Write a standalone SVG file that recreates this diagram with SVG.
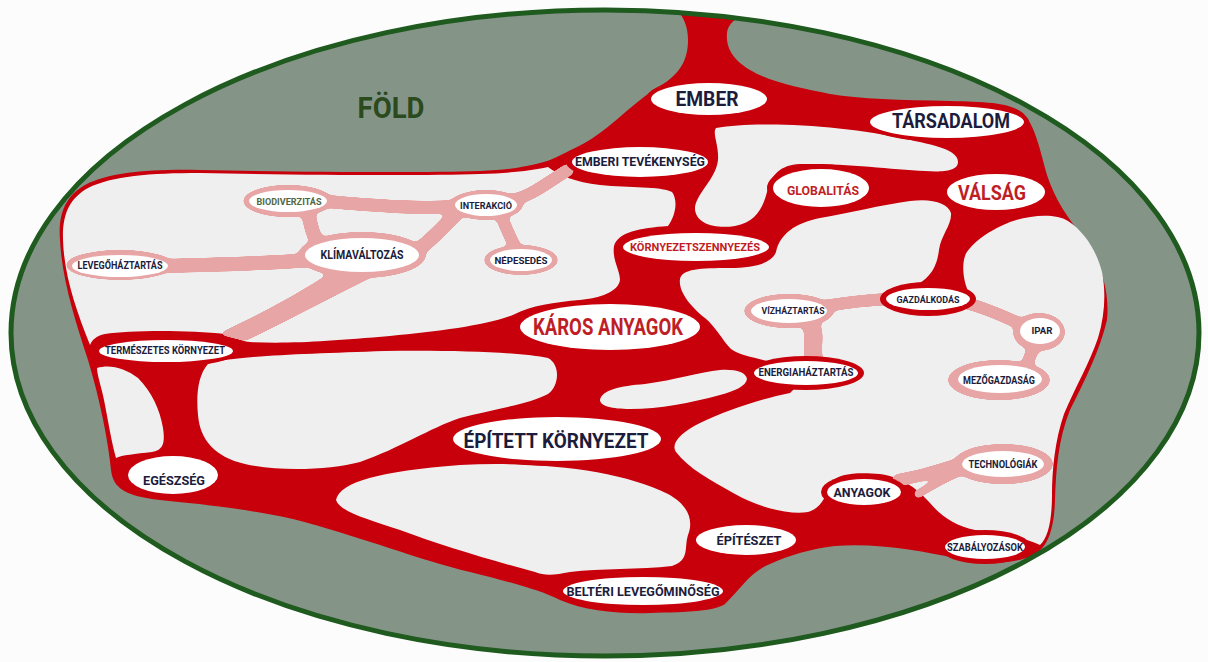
<svg xmlns="http://www.w3.org/2000/svg" width="1208" height="662" viewBox="0 0 1208 662">
<defs>
<clipPath id="earthClip"><ellipse cx="605" cy="333" rx="594" ry="323"/></clipPath>
<filter id="goo" x="-10%" y="-20%" width="120%" height="140%">
<feGaussianBlur in="SourceGraphic" stdDeviation="2.5" result="b"/>
<feColorMatrix in="b" type="matrix" values="1 0 0 0 0  0 1 0 0 0  0 0 1 0 0  0 0 0 16 -7"/>
</filter>
<style>
.red{fill:#c8000b}
.hole{fill:#efefef}
.pk{fill:#e7a5a5}
.pks{fill:none;stroke:#e7a5a5;stroke-linecap:round}
.ring{fill:#c8000b}
.wh{fill:#ffffff}
.t{font-family:Roboto,"Liberation Sans",sans-serif;font-weight:700;text-anchor:middle}
.dk{fill:#1c1c3c}
.rd{fill:#bf1e26}
.gr{fill:#4f6741}
</style>
</defs>
<rect width="1208" height="662" fill="#fcfcfc"/>
<ellipse cx="605" cy="333" rx="594" ry="323" fill="#849587"/>

<g id="network" clip-path="url(#earthClip)">
<path class="red" d="M 668,2 C 682,12 688,24 688,40 C 688,60 680,74 660,86 C 630,104 605,135 575,148 C 560,155 553,160 540,163 C 520,168 505,170 480,171 C 420,173 300,172 200,170 C 150,169 110,172 85,185 C 65,196 58,215 60,240 C 62,280 75,320 88,360 C 100,400 108,440 111,470 C 113,488 125,496 160,500 C 200,504 260,510 308,523 C 360,537 420,560 470,572 C 510,582 540,590 560,600 C 585,611 620,614 650,613 C 690,612 715,611 725,604 C 740,590 750,572 770,564 C 790,555 810,549 835,546 C 880,543 920,551 960,559 C 990,565 1015,563 1032,556 C 1048,548 1054,530 1055,500 C 1056,470 1058,440 1070,410 C 1085,380 1100,350 1107,320 C 1110,290 1100,262 1085,240 C 1068,218 1055,200 1047,175 C 1040,150 1035,125 1023,113 C 1010,103 990,102 950,101 C 900,100 860,99 830,94 C 800,88 770,82 750,70 C 730,58 726,45 727,33 C 728,22 740,14 765,4 Z"/>
<g id="holes">
<path class="hole" d="M 548,167 C 560,176 575,182 600,185 C 630,188 660,186 672,192 C 678,200 676,215 668,226 C 640,228 618,232 614,246 C 612,260 620,270 620,280 C 618,292 600,298 580,300 C 555,302 530,306 515,314 C 490,325 440,331 390,336 C 330,341 290,344 250,342 C 238,341 235,335 225,334 C 190,330 130,330 105,334 C 96,336 92,340 90,345 C 76,310 64,275 63,240 C 62,214 70,198 88,188 C 112,176 150,173 200,173 C 300,175 420,176 480,174 C 510,173 530,171 548,167 Z"/>
<path class="hole" d="M 97,368 C 110,364 125,368 138,378 C 152,392 160,410 163,428 C 165,442 164,450 152,452 C 135,454 122,455 116,458 C 112,445 108,420 104,400 C 101,385 97,375 97,368 Z"/>
<path class="hole" d="M 208,364 C 230,356 300,354 385,351 C 450,350 520,352 548,358 C 560,364 560,385 548,394 C 530,404 490,410 460,418 C 430,428 400,448 360,462 C 330,470 280,472 245,464 C 215,457 200,440 198,415 C 196,395 198,375 208,364 Z"/>
<path class="hole" d="M 336,500 C 340,482 380,471 460,465 C 540,461 620,470 668,494 C 688,505 694,520 688,535 C 684,548 690,560 672,566 C 640,570 600,568 570,572 C 555,575 545,576 535,572 C 490,560 440,545 400,530 C 370,520 340,512 336,500 Z"/>
<path class="hole" d="M 600,400 C 602,390 620,386 645,384 C 675,380 700,372 720,370 C 735,369 746,372 747,379 C 746,386 735,391 720,395 C 690,403 660,409 630,409 C 612,409 600,406 600,400 Z"/>
<path class="hole" d="M 716,128 C 760,120 850,126 905,139 C 935,145 958,150 958,162 C 958,172 940,172 925,171 C 890,169 840,163 800,164 C 780,165 772,175 768,188 C 764,205 758,222 735,226 C 715,229 697,224 695,210 C 694,195 716,180 718,160 C 719,145 712,133 716,128 Z"/>
<path class="hole" d="M 776,252 C 780,234 795,223 820,218 C 850,213 880,205 910,201 C 932,198 948,203 951,213 C 952,225 941,235 939,250 C 937,266 931,279 912,287 L 930,302 L 972,299 C 964,286 961,268 965,256 C 969,246 985,232 1010,222 C 1030,215 1055,213 1068,221 C 1085,232 1097,252 1102,272 C 1106,292 1105,315 1098,338 C 1090,362 1075,388 1064,414 C 1055,440 1052,470 1052,495 C 1052,520 1048,538 1040,545 C 1025,538 1000,533 975,530 C 955,526 940,515 930,503 C 918,490 905,478 880,474 C 855,472 838,474 832,482 C 826,495 822,508 808,512 C 790,515 760,508 735,494 C 710,480 688,468 676,452 C 670,443 682,432 700,423 C 725,411 760,399 790,393 L 805,378 L 770,362 C 755,357 740,356 731,349 C 722,340 716,327 705,318 C 692,308 678,292 680,279 C 682,269 700,268 730,268 C 755,268 772,263 776,252 Z"/>
</g>
</g>

<g id="connectors" filter="url(#goo)">
<ellipse class="pk" cx="120" cy="265" rx="54" ry="15"/>
<ellipse class="pk" cx="362" cy="255" rx="64" ry="23"/>
<ellipse class="pk" cx="288" cy="201" rx="45" ry="16"/>
<ellipse class="pk" cx="486" cy="205" rx="37" ry="15"/>
<ellipse class="pk" cx="521" cy="260" rx="37" ry="15"/>
<ellipse class="pk" cx="789" cy="311" rx="45" ry="17"/>
<ellipse class="pk" cx="1039" cy="332" rx="26" ry="19"/>
<ellipse class="pk" cx="999" cy="380" rx="51" ry="20"/>
<ellipse class="pk" cx="1003" cy="464" rx="50" ry="20"/>
<path class="pks" stroke-width="14" d="M160,266 C210,265 260,264 310,260"/>
<path class="pk" d="M334,270 C305,290 265,312 218,334 L245,341 C285,322 330,298 374,276 Z"/>
<path class="pks" stroke-width="13" d="M322,201 C370,205 420,210 462,206"/>
<path class="pks" stroke-width="14" d="M306,208 C312,222 310,236 322,246"/>
<path class="pks" stroke-width="14" d="M458,212 C444,226 434,238 418,250"/>
<path class="pks" stroke-width="12" d="M500,213 C506,228 512,242 520,256"/>
<path class="pks" stroke-width="12" d="M512,200 C532,196 548,182 568,170"/>
<path class="pks" stroke-width="12" d="M825,306 C850,302 866,300 888,299"/>
<path class="pks" stroke-width="18" d="M810,322 C818,338 809,350 815,362"/>
<path class="pks" stroke-width="12" d="M966,303 C990,309 1006,318 1026,326"/>
<path class="pks" stroke-width="12" d="M1036,345 C1030,355 1026,363 1028,372"/>
<path class="pks" stroke-width="12" d="M898,480 C920,477 940,470 962,463"/>
<path class="pks" stroke-width="8" d="M918,494 C932,486 944,478 960,472"/>
</g>

<g id="node-ember"><ellipse class="ring" cx="709" cy="99" rx="63" ry="21"/><ellipse class="wh" cx="709" cy="99" rx="58" ry="16"/><text class="t dk" x="707" y="106" font-size="20" textLength="63" lengthAdjust="spacingAndGlyphs">EMBER</text></g>
<g id="node-tarsadalom"><ellipse class="ring" cx="947" cy="122" rx="82" ry="20"/><ellipse class="wh" cx="947" cy="122" rx="77" ry="16"/><text class="t dk" x="951" y="128" font-size="20" textLength="118" lengthAdjust="spacingAndGlyphs">TÁRSADALOM</text></g>
<g id="node-emberi-tevekenyseg"><ellipse class="ring" cx="640" cy="162" rx="74" ry="20"/><ellipse class="wh" cx="640" cy="162" rx="68" ry="15"/><text class="t dk" x="640" y="166" font-size="13" textLength="130" lengthAdjust="spacingAndGlyphs">EMBERI TEVÉKENYSÉG</text></g>
<g id="node-globalitas"><ellipse class="ring" cx="821" cy="188" rx="54" ry="24"/><ellipse class="wh" cx="821" cy="188" rx="48" ry="19"/><text class="t rd" x="823" y="195" font-size="13" textLength="72" lengthAdjust="spacingAndGlyphs">GLOBALITÁS</text></g>
<g id="node-valsag"><ellipse class="ring" cx="996" cy="192" rx="55" ry="23"/><ellipse class="wh" cx="996" cy="192" rx="49" ry="18"/><text class="t rd" x="992" y="200" font-size="20" textLength="68" lengthAdjust="spacingAndGlyphs">VÁLSÁG</text></g>
<g id="node-kornyezetszennyezes"><ellipse class="ring" cx="696" cy="247" rx="79" ry="19"/><ellipse class="wh" cx="696" cy="247" rx="73" ry="14"/><text class="t rd" x="695" y="251" font-size="11.5" textLength="130" lengthAdjust="spacingAndGlyphs">KÖRNYEZETSZENNYEZÉS</text></g>
<g id="node-biodiverzitas"><ellipse class="wh" cx="288" cy="201" rx="39" ry="11"/><text class="t gr" x="289" y="205" font-size="9.5" textLength="65" lengthAdjust="spacingAndGlyphs">BIODIVERZITÁS</text></g>
<g id="node-interakcio"><ellipse class="wh" cx="486" cy="205" rx="31" ry="11"/><text class="t dk" x="486" y="209" font-size="9.5" textLength="52" lengthAdjust="spacingAndGlyphs">INTERAKCIÓ</text></g>
<g id="node-klimavaltozas"><ellipse class="wh" cx="362" cy="255" rx="57" ry="17"/><text class="t dk" x="362" y="259" font-size="12.5" textLength="83" lengthAdjust="spacingAndGlyphs">KLÍMAVÁLTOZÁS</text></g>
<g id="node-nepesedes"><ellipse class="wh" cx="521" cy="260" rx="31" ry="11"/><text class="t dk" x="521" y="264" font-size="9.5" textLength="53" lengthAdjust="spacingAndGlyphs">NÉPESEDÉS</text></g>
<g id="node-levegohaztartas"><ellipse class="wh" cx="120" cy="266" rx="48" ry="11"/><text class="t dk" x="120" y="269" font-size="10" textLength="85" lengthAdjust="spacingAndGlyphs">LEVEGŐHÁZTARTÁS</text></g>
<g id="node-karos-anyagok"><ellipse class="ring" cx="610" cy="327" rx="96" ry="28"/><ellipse class="wh" cx="610" cy="327" rx="90" ry="23"/><text class="t rd" x="608" y="335" font-size="24" textLength="150" lengthAdjust="spacingAndGlyphs">KÁROS ANYAGOK</text></g>
<g id="node-termeszetes-kornyezet"><ellipse class="ring" cx="166" cy="351" rx="72" ry="16"/><ellipse class="wh" cx="166" cy="351" rx="67" ry="11"/><text class="t dk" x="165" y="354" font-size="10" textLength="120" lengthAdjust="spacingAndGlyphs">TERMÉSZETES KÖRNYEZET</text></g>
<g id="node-gazdalkodas"><ellipse class="ring" cx="928" cy="299" rx="48" ry="17"/><ellipse class="wh" cx="928" cy="299" rx="42" ry="11"/><text class="t dk" x="928" y="303" font-size="9.5" textLength="63" lengthAdjust="spacingAndGlyphs">GAZDÁLKODÁS</text></g>
<g id="node-vizhaztartas"><ellipse class="wh" cx="789" cy="311" rx="38" ry="12"/><text class="t dk" x="793" y="314" font-size="9.5" textLength="63" lengthAdjust="spacingAndGlyphs">VÍZHÁZTARTÁS</text></g>
<g id="node-ipar"><ellipse class="wh" cx="1040" cy="331" rx="20" ry="13"/><text class="t dk" x="1042" y="334" font-size="9.5" textLength="21" lengthAdjust="spacingAndGlyphs">IPAR</text></g>
<g id="node-energiahaztartas"><ellipse class="ring" cx="806" cy="373" rx="58" ry="17"/><ellipse class="wh" cx="806" cy="373" rx="52" ry="12"/><text class="t dk" x="806" y="376" font-size="10" textLength="95" lengthAdjust="spacingAndGlyphs">ENERGIAHÁZTARTÁS</text></g>
<g id="node-mezogazdasag"><ellipse class="wh" cx="1000" cy="379" rx="42" ry="14"/><text class="t dk" x="999" y="384" font-size="10" textLength="72" lengthAdjust="spacingAndGlyphs">MEZŐGAZDASÁG</text></g>
<g id="node-epitett-kornyezet"><ellipse class="ring" cx="557" cy="439" rx="110" ry="27"/><ellipse class="wh" cx="557" cy="439" rx="104" ry="22"/><text class="t dk" x="556" y="448" font-size="21" textLength="185" lengthAdjust="spacingAndGlyphs">ÉPÍTETT KÖRNYEZET</text></g>
<g id="node-egeszseg"><ellipse class="ring" cx="173" cy="475" rx="51" ry="24"/><ellipse class="wh" cx="173" cy="475" rx="45" ry="19"/><text class="t dk" x="174" y="485" font-size="13.5" textLength="62" lengthAdjust="spacingAndGlyphs">EGÉSZSÉG</text></g>
<g id="node-technologiak"><ellipse class="wh" cx="1003" cy="464" rx="41" ry="13"/><text class="t dk" x="1003" y="468" font-size="10" textLength="69" lengthAdjust="spacingAndGlyphs">TECHNOLÓGIÁK</text></g>
<g id="node-anyagok"><ellipse class="ring" cx="864" cy="492" rx="43" ry="18"/><ellipse class="wh" cx="864" cy="492" rx="37" ry="13"/><text class="t dk" x="862" y="497" font-size="13.5" textLength="57" lengthAdjust="spacingAndGlyphs">ANYAGOK</text></g>
<g id="node-szabalyozasok"><ellipse class="ring" cx="985" cy="547" rx="46" ry="17"/><ellipse class="wh" cx="985" cy="547" rx="40" ry="12"/><text class="t dk" x="985" y="551" font-size="10" textLength="76" lengthAdjust="spacingAndGlyphs">SZABÁLYOZÁSOK</text></g>
<g id="node-epiteszet"><ellipse class="ring" cx="746" cy="540" rx="56" ry="20"/><ellipse class="wh" cx="746" cy="540" rx="50" ry="15"/><text class="t dk" x="749" y="545" font-size="13.5" textLength="65" lengthAdjust="spacingAndGlyphs">ÉPÍTÉSZET</text></g>
<g id="node-belteri-levegominoseg"><ellipse class="ring" cx="643" cy="591" rx="86" ry="19"/><ellipse class="wh" cx="643" cy="591" rx="80" ry="14"/><text class="t dk" x="643" y="596" font-size="13.5" textLength="153" lengthAdjust="spacingAndGlyphs">BELTÉRI LEVEGŐMINŐSÉG</text></g>

<ellipse cx="605" cy="333" rx="594" ry="323" fill="none" stroke="#1f5a1f" stroke-width="5"/>
<g id="label-fold"><text class="t" x="391" y="118" font-size="30" fill="#2b4a1e" textLength="67" lengthAdjust="spacingAndGlyphs">FÖLD</text></g>
</svg>
